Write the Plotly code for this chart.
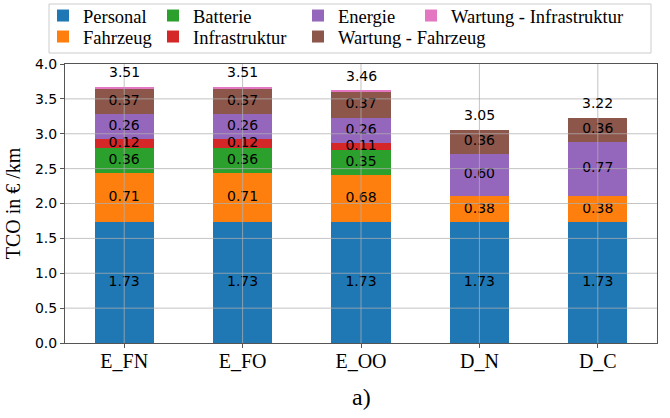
import plotly.graph_objects as go
import numpy as np

categories = ["E_FN", "E_FO", "E_OO", "D_N", "D_C"]
series_names = ["Personal", "Fahrzeug", "Batterie", "Infrastruktur", "Energie",
                "Wartung - Fahrzeug", "Wartung - Infrastruktur"]
colors = ["#1f77b4", "#ff7f0e", "#2ca02c", "#d62728", "#9467bd", "#8c564b", "#e377c2"]

# drawn segment heights
personal = [1.73, 1.73, 1.73, 1.73, 1.73]
fahrzeug = [0.71, 0.71, 0.68, 0.38, 0.38]
batterie = [0.36, 0.36, 0.35, 0.0, 0.0]
infrastruktur = [0.12, 0.12, 0.11, 0.0, 0.0]
energie = [0.36, 0.36, 0.36, 0.60, 0.77]
wartung_fzg = [0.37, 0.37, 0.37, 0.35, 0.35]
wartung_inf = [0.02, 0.02, 0.02, 0.0, 0.0]

# printed labels
lbl_personal = ["1.73", "1.73", "1.73", "1.73", "1.73"]
lbl_fahrzeug = ["0.71", "0.71", "0.68", "0.38", "0.38"]
lbl_batterie = ["0.36", "0.36", "0.35", "", ""]
lbl_infra = ["0.12", "0.12", "0.11", "", ""]
lbl_energie = ["0.26", "0.26", "0.26", "0.60", "0.77"]
lbl_wartung_fzg = ["0.37", "0.37", "0.37", "0.36", "0.36"]
total_labels = ["3.51", "3.51", "3.46", "3.05", "3.22"]

y_ticks = [0.0, 0.5, 1.0, 1.5, 2.0, 2.5, 3.0, 3.5, 4.0]

series = [personal, fahrzeug, batterie, infrastruktur, energie, wartung_fzg, wartung_inf]
labels = [lbl_personal, lbl_fahrzeug, lbl_batterie, lbl_infra, lbl_energie, lbl_wartung_fzg, None]

SERIF = "Liberation Serif"
SANS = "DejaVu Sans"

L, R, T, B = 65, 657, 64, 343
W, H = R - L, B - T
def px(x):
    return (x - L) / W
def py(y):
    return (B - y) / H

# legend placement: (column text-start x, row) -> matplotlib ncol=4 column-wise fill
leg_cols = [43, 153, 298, 411]
leg_rows_top = [-3, 18]
leg_pos = [(0, 0), (0, 1), (1, 0), (1, 1), (2, 0), (2, 1), (3, 0)]
legend_ids = ["legend"] + ["legend%d" % (i + 1) for i in range(1, len(series_names))]

fig = go.Figure()
for name, vals, col, lg in zip(series_names, series, colors, legend_ids):
    fig.add_trace(go.Bar(x=categories, y=vals, name=name, marker_color=col,
                         marker_line_width=0, width=0.5, legend=lg))

# segment labels
base = np.zeros(len(categories))
for vals, lbl in zip(series, labels):
    v = np.array(vals, dtype=float)
    if lbl is not None:
        fig.add_trace(go.Scatter(x=categories, y=(base + v / 2).tolist(), text=lbl, mode="text",
                                 textfont=dict(family=SANS, size=14, color="black"),
                                 showlegend=False, hoverinfo="skip"))
    base = base + v

# total labels
for c, tot, lab in zip(categories, base.tolist(), total_labels):
    fig.add_annotation(x=c, y=tot, text=lab, showarrow=False, yanchor="bottom",
                       yshift=5, font=dict(family=SANS, size=14, color="black"))

# grid lines drawn above bars (as in reference)
grid_col = "rgba(175,175,175,0.75)"
for t in y_ticks[1:-1]:
    fig.add_shape(type="line", xref="paper", x0=0, x1=1, yref="y", y0=t, y1=t,
                  line=dict(color=grid_col, width=1), layer="above")
for i in range(len(categories)):
    fig.add_shape(type="line", xref="x", x0=i, x1=i, yref="paper", y0=0, y1=1,
                  line=dict(color=grid_col, width=1), layer="above")

# legend frame
fig.add_shape(type="rect", xref="paper", yref="paper", x0=px(49), x1=px(651),
              y0=py(53), y1=py(4), line=dict(color="#cccccc", width=1), layer="above")

leg_common = dict(xref="paper", yref="paper", xanchor="left", yanchor="top",
                  bgcolor="rgba(0,0,0,0)", borderwidth=0, tracegroupgap=0,
                  traceorder="normal",
                  font=dict(family=SERIF, size=18.5, color="black"))
leg_layout = {}
for lg, (ci, ri) in zip(legend_ids, leg_pos):
    leg_layout[lg] = dict(x=px(leg_cols[ci]), y=py(leg_rows_top[ri]), **leg_common)
fig.update_layout(**leg_layout)

fig.add_annotation(xref="paper", yref="paper", x=0.5, y=py(397), text="a)",
                   showarrow=False, yanchor="middle",
                   font=dict(family=SERIF, size=24, color="black"))

fig.update_layout(
    width=670, height=418, barmode="stack",
    margin=dict(l=L, r=670 - R, t=T, b=418 - B, autoexpand=False),
    plot_bgcolor="white", paper_bgcolor="white",
    xaxis=dict(type="category", range=[-0.5, 4.5], showgrid=False, showline=True, mirror=True,
               linecolor="#555555", linewidth=1, ticks="outside", ticklen=4,
               tickcolor="#555555", ticklabelstandoff=-4,
               tickfont=dict(family=SERIF, size=20, color="black")),
    yaxis=dict(range=[0, 4.0], tickvals=y_ticks, tickformat=".1f", showgrid=False,
               zeroline=False, showline=True, mirror=True, linecolor="#555555",
               linewidth=1, ticks="outside", ticklen=4, tickcolor="#555555",
               tickfont=dict(family=SANS, size=14, color="black"),
               title=dict(text="TCO in € /km", standoff=8,
                          font=dict(family=SERIF, size=20, color="black"))),
)

fig.write_html("out.html")
